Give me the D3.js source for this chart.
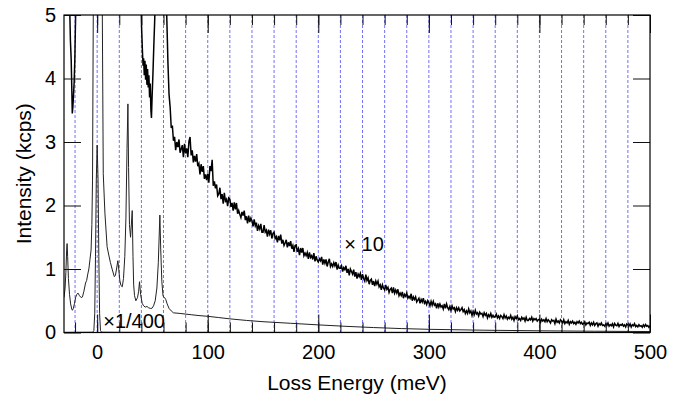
<!DOCTYPE html>
<html>
<head>
<meta charset="utf-8">
<script src="https://cdn.jsdelivr.net/npm/d3@7"></script>
<style>
  body { margin: 0; background: #fff; }
  svg { display: block; font-family: "Liberation Sans", Arial, Helvetica, sans-serif; }
</style>
</head>
<body>
<svg id="chart" width="682" height="398"></svg>
<script>
// raw spectrum (x1), energy in meV, intensity in kcps
const rawSpectrum = [
  [-30, 0.55], [-29, 0.7], [-28.3, 0.95], [-27.6, 1.3], [-27.2, 1.40], [-26.7, 1.2], [-26, 0.85],
  [-25, 0.6], [-24, 0.45], [-23, 0.37], [-22.4, 0.35], [-21.5, 0.38], [-20.5, 0.46], [-19.5, 0.55],
  [-18.5, 0.6], [-17.3, 0.62], [-16, 0.58], [-14.5, 0.55], [-13.3, 0.56], [-12, 0.65], [-10.5, 0.78],
  [-9.5, 0.82], [-8.5, 0.92], [-7.5, 1.0], [-6.5, 1.15], [-5.5, 1.3], [-4.8, 1.7], [-4.2, 2.4],
  [-3.4, 5.5], [-2, 40], [0, 1180], [2, 40], [4.5, 5.5], [5.5, 2.5], [7, 1.88], [9, 1.35],
  [10.5, 1.22], [12, 1.1], [13.5, 1.0], [15.5, 0.88], [16.5, 0.9], [17.5, 1.0], [18.7, 1.13],
  [19.5, 1.0], [20.5, 0.82], [21.5, 0.74], [22.7, 0.72], [23.8, 0.85], [25, 1.2], [26, 1.8],
  [27, 2.9], [27.8, 3.6], [28.4, 2.6], [29.2, 1.7], [30.2, 1.5], [31.7, 1.92], [32.4, 1.2],
  [33, 0.75], [33.8, 0.58], [35, 0.5], [36.5, 0.55], [37.5, 0.65], [38.3, 0.8], [39.3, 0.6],
  [40.7, 0.46], [42, 0.42], [43.5, 0.40], [45, 0.41], [46.5, 0.39], [48, 0.38], [49.5, 0.38],
  [51, 0.42], [52.5, 0.5], [54, 0.7], [55.3, 1.1], [56.7, 1.85], [57.5, 1.3], [58.5, 0.8],
  [59.6, 0.57], [61, 0.55], [62, 0.52], [63.3, 0.45], [65, 0.38], [67, 0.34], [69, 0.31],
  [75, 0.30], [85, 0.28], [93, 0.265], [100, 0.255], [110, 0.235], [120, 0.215], [135, 0.19],
  [150, 0.17], [175, 0.145], [200, 0.12], [225, 0.097], [250, 0.078], [275, 0.062], [300, 0.05],
  [350, 0.036], [400, 0.027], [450, 0.02], [500, 0.015]
];

// elastic peak shown x1/400
const elasticPeak = [
  [-30, 0.002], [-4, 0.004], [-3, 0.03], [-2.2, 0.3], [-1.5, 1.2], [-0.8, 2.4], [0, 2.95],
  [0.8, 2.4], [1.5, 1.2], [2.2, 0.3], [3, 0.03], [4, 0.005], [20, 0.003], [500, 0.0005]
];

// x10 spectrum, parts that stay on scale below 64 meV
const zoomedLow = [
  [-25.2, 5.6], [-24.7, 5.0], [-24.2, 4.6], [-23.5, 4.3], [-22.9, 3.8], [-22.5, 3.45],
  [-22, 3.55], [-21.5, 3.7], [-20.8, 3.95], [-20.2, 4.3], [-19.5, 5.0], [-19, 5.6]
];
const zoomedMid = [
  [39.5, 5.4], [40.2, 4.8], [40.9, 4.45], [41.5, 4.2], [42, 4.32], [42.6, 4.05], [43.2, 4.28],
  [43.8, 3.98], [44.4, 4.22], [45, 3.9], [45.6, 4.15], [46.2, 3.86], [46.8, 4.05], [47.4, 3.7],
  [48, 3.92], [48.6, 3.5], [49.1, 3.38], [49.7, 3.72], [50.4, 4.05], [51.2, 4.5], [52, 4.9], [52.8, 5.4]
];
const zoomedHead = [[62.3, 5.6], [62.9, 5.0], [63.5, 4.6]];

// x10 spectrum from 64 to 500 meV, one value per meV
const zoomedStart = 64;
const zoomedTail = [
  4.25, 3.75, 3.55, 3.22, 3.26, 3.02,
  3.08, 2.87, 3.00, 2.92, 3.04, 2.83, 2.89, 2.95, 2.76, 2.97,
  2.82, 2.90, 2.76, 3.01, 3.08, 2.79, 2.87, 2.68, 2.78, 2.69,
  2.81, 2.62, 2.66, 2.49, 2.65, 2.53, 2.62, 2.42, 2.49, 2.40,
  2.50, 2.36, 2.62, 2.54, 2.72, 2.31, 2.38, 2.27, 2.33, 2.15,
  2.18, 2.28, 2.10, 2.18, 2.03, 2.20, 2.07, 2.10, 1.99, 2.12,
  2.10, 1.98, 2.04, 1.92, 2.05, 1.94, 2.04, 1.87, 1.92, 1.86,
  1.81, 1.90, 1.84, 1.92, 1.77, 1.83, 1.72, 1.84, 1.74, 1.80,
  1.76, 1.67, 1.78, 1.68, 1.73, 1.60, 1.68, 1.63, 1.71, 1.58,
  1.58, 1.69, 1.58, 1.61, 1.51, 1.62, 1.55, 1.61, 1.48, 1.56,
  1.58, 1.48, 1.51, 1.42, 1.52, 1.45, 1.54, 1.40, 1.46, 1.37,
  1.41, 1.46, 1.34, 1.42, 1.36, 1.44, 1.32, 1.37, 1.27, 1.37,
  1.38, 1.27, 1.32, 1.22, 1.33, 1.26, 1.33, 1.21, 1.25, 1.21,
  1.26, 1.16, 1.26, 1.18, 1.21, 1.15, 1.25, 1.12, 1.20, 1.14,
  1.11, 1.16, 1.13, 1.19, 1.07, 1.15, 1.09, 1.15, 1.04, 1.11,
  1.16, 1.04, 1.08, 1.04, 1.10, 1.05, 1.11, 0.99, 1.06, 1.01,
  1.01, 1.05, 0.96, 1.02, 0.99, 1.05, 0.94, 1.00, 0.90, 1.00,
  0.96, 0.92, 0.99, 0.88, 0.95, 0.85, 0.92, 0.88, 0.93, 0.83,
  0.92, 0.85, 0.81, 0.91, 0.82, 0.86, 0.76, 0.82, 0.84, 0.75,
  0.81, 0.73, 0.81, 0.76, 0.81, 0.72, 0.75, 0.67, 0.75, 0.70,
  0.67, 0.75, 0.68, 0.71, 0.63, 0.68, 0.70, 0.62, 0.71, 0.62,
  0.67, 0.62, 0.68, 0.58, 0.62, 0.58, 0.64, 0.54, 0.60, 0.57,
  0.62, 0.54, 0.57, 0.54, 0.61, 0.50, 0.56, 0.52, 0.56, 0.48,
  0.51, 0.54, 0.46, 0.52, 0.48, 0.54, 0.46, 0.49, 0.44, 0.50,
  0.47, 0.42, 0.49, 0.43, 0.49, 0.43, 0.45, 0.38, 0.46, 0.40,
  0.45, 0.40, 0.42, 0.37, 0.45, 0.38, 0.45, 0.39, 0.36, 0.41,
  0.35, 0.42, 0.37, 0.39, 0.33, 0.39, 0.35, 0.39, 0.34, 0.36,
  0.39, 0.33, 0.36, 0.30, 0.34, 0.30, 0.37, 0.31, 0.34, 0.27,
  0.33, 0.28, 0.35, 0.29, 0.31, 0.26, 0.32, 0.29, 0.30, 0.25,
  0.31, 0.27, 0.30, 0.23, 0.28, 0.25, 0.30, 0.24, 0.27, 0.24,
  0.25, 0.29, 0.23, 0.26, 0.22, 0.27, 0.25, 0.22, 0.28, 0.23,
  0.26, 0.21, 0.24, 0.22, 0.27, 0.21, 0.24, 0.19, 0.25, 0.22,
  0.26, 0.20, 0.22, 0.19, 0.24, 0.21, 0.23, 0.18, 0.24, 0.19,
  0.19, 0.22, 0.20, 0.24, 0.18, 0.22, 0.20, 0.22, 0.18, 0.20,
  0.21, 0.16, 0.21, 0.18, 0.20, 0.17, 0.22, 0.17, 0.20, 0.18,
  0.15, 0.20, 0.18, 0.19, 0.14, 0.21, 0.16, 0.18, 0.15, 0.20,
  0.18, 0.15, 0.20, 0.14, 0.17, 0.15, 0.19, 0.13, 0.17, 0.15,
  0.18, 0.14, 0.16, 0.13, 0.17, 0.15, 0.18, 0.14, 0.16, 0.13,
  0.14, 0.17, 0.12, 0.15, 0.14, 0.16, 0.11, 0.15, 0.12, 0.16,
  0.11, 0.14, 0.15, 0.10, 0.14, 0.12, 0.15, 0.11, 0.12, 0.10,
  0.135, 0.11, 0.15, 0.10, 0.125, 0.107, 0.137, 0.089, 0.142, 0.115,
  0.106, 0.142, 0.094, 0.125, 0.113, 0.133, 0.099, 0.121, 0.087, 0.135,
  0.121, 0.100, 0.136, 0.087, 0.123, 0.105, 0.139, 0.093, 0.111, 0.088,
  0.122, 0.099, 0.108, 0.082, 0.121, 0.092, 0.125, 0.098, 0.109, 0.081, 0.11
];

const xMajor = [0, 100, 200, 300, 400, 500];
const xMinor = d3.range(-20, 500, 20);
const yMajor = [0, 1, 2, 3, 4, 5];

const svg = d3.select('#chart');
const plotLeft = 64, plotRight = 650, plotTop = 15, plotBottom = 332.5;

const x = d3.scaleLinear().domain([-30, 500]).range([plotLeft, plotRight]);
const y = d3.scaleLinear().domain([0, 5]).range([plotBottom, plotTop]);

svg.append('defs').append('clipPath').attr('id', 'plot-clip')
  .append('rect')
  .attr('x', plotLeft).attr('y', plotTop)
  .attr('width', plotRight - plotLeft).attr('height', plotBottom - plotTop);

// dashed guide lines every 20 meV
svg.append('g')
  .selectAll('line')
  .data(xMinor)
  .enter().append('line')
  .attr('x1', d => x(d)).attr('x2', d => x(d))
  .attr('y1', plotTop).attr('y2', plotBottom)
  .attr('stroke', '#7070ff')
  .attr('stroke-width', 1)
  .attr('stroke-dasharray', '3,2');

const line = d3.line()
  .x(d => x(d[0]))
  .y(d => y(d[1]));

const curves = svg.append('g').attr('clip-path', 'url(#plot-clip)');

curves.append('path')
  .datum(elasticPeak)
  .attr('d', line)
  .attr('fill', 'none')
  .attr('stroke', '#222')
  .attr('stroke-width', 1);

curves.append('path')
  .datum(rawSpectrum)
  .attr('d', line)
  .attr('fill', 'none')
  .attr('stroke', '#222')
  .attr('stroke-width', 1);

const tail = zoomedHead.concat(zoomedTail.map((v, i) => [zoomedStart + i, v]));
[zoomedLow, zoomedMid, tail].forEach(seg => {
  curves.append('path')
    .datum(seg)
    .attr('d', line)
    .attr('fill', 'none')
    .attr('stroke', '#000')
    .attr('stroke-width', 1.5);
});

// axes with inward ticks
const axes = svg.append('g');

axes.append('g')
  .attr('transform', `translate(0,${plotBottom})`)
  .call(d3.axisBottom(x).tickValues(xMinor).tickSize(-10).tickFormat(''));
axes.append('g')
  .attr('transform', `translate(0,${plotBottom})`)
  .call(d3.axisBottom(x).tickValues(xMajor).tickSize(-18).tickPadding(12).tickFormat(d3.format('d')));
axes.append('g')
  .attr('transform', `translate(0,${plotTop})`)
  .call(d3.axisTop(x).tickValues(xMinor).tickSize(-10).tickFormat(''));
axes.append('g')
  .attr('transform', `translate(0,${plotTop})`)
  .call(d3.axisTop(x).tickValues(xMajor).tickSize(-18).tickFormat(''));
axes.append('g')
  .attr('transform', `translate(${plotLeft},0)`)
  .call(d3.axisLeft(y).tickValues(yMajor).tickSize(-17).tickPadding(8).tickFormat(d3.format('d')));
axes.append('g')
  .attr('transform', `translate(${plotRight},0)`)
  .call(d3.axisRight(y).tickValues(yMajor).tickSize(-17).tickFormat(''));

axes.selectAll('.domain').remove();
axes.selectAll('text')
  .attr('font-family', null)
  .attr('font-size', 20)
  .attr('fill', '#000');
axes.selectAll('line').attr('stroke', '#111');

svg.append('rect')
  .attr('x', plotLeft).attr('y', plotTop)
  .attr('width', plotRight - plotLeft).attr('height', plotBottom - plotTop)
  .attr('fill', 'none')
  .attr('stroke', '#000')
  .attr('stroke-width', 1.2);

// titles
svg.append('text')
  .attr('x', (plotLeft + plotRight) / 2)
  .attr('y', 390)
  .attr('text-anchor', 'middle')
  .attr('font-size', 21)
  .text('Loss Energy (meV)');

svg.append('text')
  .attr('transform', `translate(31,${(plotTop + plotBottom) / 2}) rotate(-90)`)
  .attr('text-anchor', 'middle')
  .attr('font-size', 21)
  .text('Intensity (kcps)');

// scale annotations
svg.append('text')
  .attr('x', x(5.5)).attr('y', y(0.07))
  .attr('font-size', 20)
  .text('×1/400');

svg.append('text')
  .attr('x', x(223.5)).attr('y', y(1.28))
  .attr('font-size', 20)
  .text('× 10');
</script>
</body>
</html>
